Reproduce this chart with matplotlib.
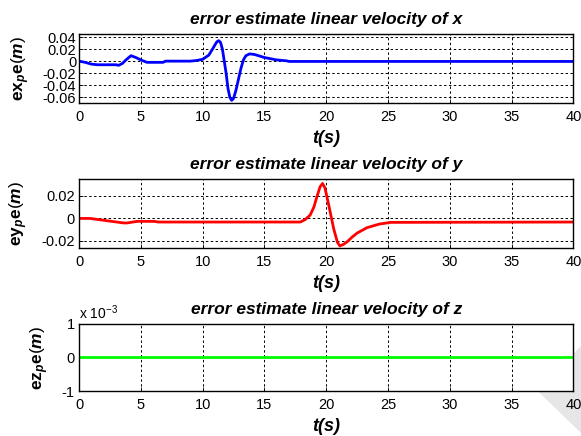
import numpy as np
import matplotlib
matplotlib.use("Agg")
import matplotlib.pyplot as plt
from matplotlib.patches import Polygon

plt.rcParams['font.family'] = ['Liberation Sans', 'DejaVu Sans']
plt.rcParams['mathtext.fontset'] = 'custom'
plt.rcParams['mathtext.bf'] = 'Liberation Sans:bold'
plt.rcParams['mathtext.it'] = 'Liberation Sans:bold:italic'
plt.rcParams['mathtext.rm'] = 'Liberation Sans'

# error in x
t_x = [0, 0.5, 1.0, 1.5, 2.0, 2.5, 3.0, 3.2, 3.5, 3.8, 4.2, 4.6, 5.0, 5.5, 6.0, 6.8, 7.0,
       9.0, 9.5, 10.0, 10.5, 10.8, 11.0, 11.15, 11.3, 11.45, 11.6, 11.75, 11.9, 12.05, 12.2,
       12.35, 12.5, 12.7, 12.9, 13.1, 13.3, 13.5, 13.8, 14.2, 15.0, 16.0, 16.8, 17.0, 40.0]
e_x = [0, -0.002, -0.005, -0.006, -0.006, -0.006, -0.006, -0.007, -0.004, 0.002, 0.009,
       0.006, 0.002, -0.002, -0.002, -0.002, 0, 0, 0.001, 0.003, 0.010, 0.020, 0.027,
       0.032, 0.034, 0.031, 0.020, 0.0, -0.020, -0.045, -0.060, -0.065, -0.062, -0.048,
       -0.030, -0.012, 0.002, 0.009, 0.012, 0.011, 0.006, 0.002, 0.0005, -0.0005, -0.0005]

# error in y
t_y = [0, 0.9, 1.7, 2.5, 3.6, 3.9, 4.7, 6.1, 6.4, 17.9, 18.3, 18.7, 19.0, 19.2, 19.5, 19.7,
       19.9, 20.2, 20.6, 20.9, 21.1, 21.4, 21.7, 22.1, 22.5, 23.3, 24.3, 25.2, 40.0]
e_y = [0, 0, -0.0012, -0.0024, -0.004, -0.004, -0.0026, -0.0026, -0.0032, -0.0032, -0.001,
       0.003, 0.010, 0.0176, 0.028, 0.031, 0.027, 0.012, -0.009, -0.021, -0.0244, -0.023,
       -0.0206, -0.0165, -0.013, -0.0082, -0.005, -0.0035, -0.0032]

# error in z
t_z = [0, 40]
e_z = [0, 0]

fig = plt.figure(figsize=(5.81, 4.36), dpi=100)

boxes = [[0.136, 0.763, 0.851, 0.159],
         [0.136, 0.4305, 0.851, 0.159],
         [0.136, 0.1032, 0.851, 0.1537]]
titles = ['error estimate linear velocity of x',
          'error estimate linear velocity of y',
          'error estimate linear velocity of z']
ylabels = [r'$\mathbf{ex}_{\mathit{p}}\mathbf{e}\mathit{(m)}$',
           r'$\mathbf{ey}_{\mathit{p}}\mathbf{e}\mathit{(m)}$',
           r'$\mathbf{ez}_{\mathit{p}}\mathbf{e}\mathit{(m)}$']
series = [(t_x, e_x, '#0000ff'), (t_y, e_y, '#ff0000'), (t_z, e_z, '#00ff00')]
ylims = [(-0.07, 0.045), (-0.0265, 0.035), (-1e-3, 1e-3)]
yticks = [[-0.06, -0.04, -0.02, 0, 0.02, 0.04], [-0.02, 0, 0.02], [-1e-3, 0, 1e-3]]
ytlabels = [['-0.06', '-0.04', '-0.02', '0', '0.02', '0.04'], ['-0.02', '0', '0.02'], ['-1', '0', '1']]

for i in range(3):
    ax = fig.add_axes(boxes[i])
    t, e, c = series[i]
    ax.plot(t, e, color=c, linewidth=2)
    ax.set_xlim(0, 40)
    ax.set_ylim(*ylims[i])
    ax.set_xticks(range(0, 41, 5))
    ax.set_yticks(yticks[i])
    ax.set_yticklabels(ytlabels[i])
    ax.tick_params(axis='x', labelsize=10.5, direction='in', length=3, width=0.6, pad=5)
    ax.tick_params(axis='y', labelsize=10.5, direction='in', length=3, width=0.6, pad=3)
    ax.grid(True, color='black', linestyle=(0, (2.5, 2.5)), linewidth=0.7)
    for s in ax.spines.values():
        s.set_linewidth(1.0)
    ax.set_title(titles[i], fontsize=12.5, fontweight='bold', fontstyle='italic', pad=7)
    ax.set_xlabel('t(s)', fontsize=13, fontweight='bold', fontstyle='italic', labelpad=4)
    ax.set_ylabel(ylabels[i], fontsize=12.5, labelpad=8)
    if i == 0:
        ax.tick_params(axis='y', labelsize=10.5, pad=2)
    if i == 2:
        ax.text(0.0, 1.03, r'x 10$^{-3}$', transform=ax.transAxes, fontsize=10,
                ha='left', va='bottom')

# watermark shape in lower right corner
fig.patches.append(Polygon([[536.7 / 581, 1 - 390 / 436], [1.0, 1 - 346 / 436], [1.0, 1 - 433 / 436]],
                           closed=True, transform=fig.transFigure, facecolor='#e6e6e6',
                           edgecolor='none', zorder=-1))

fig.savefig('out.png', dpi=100)
